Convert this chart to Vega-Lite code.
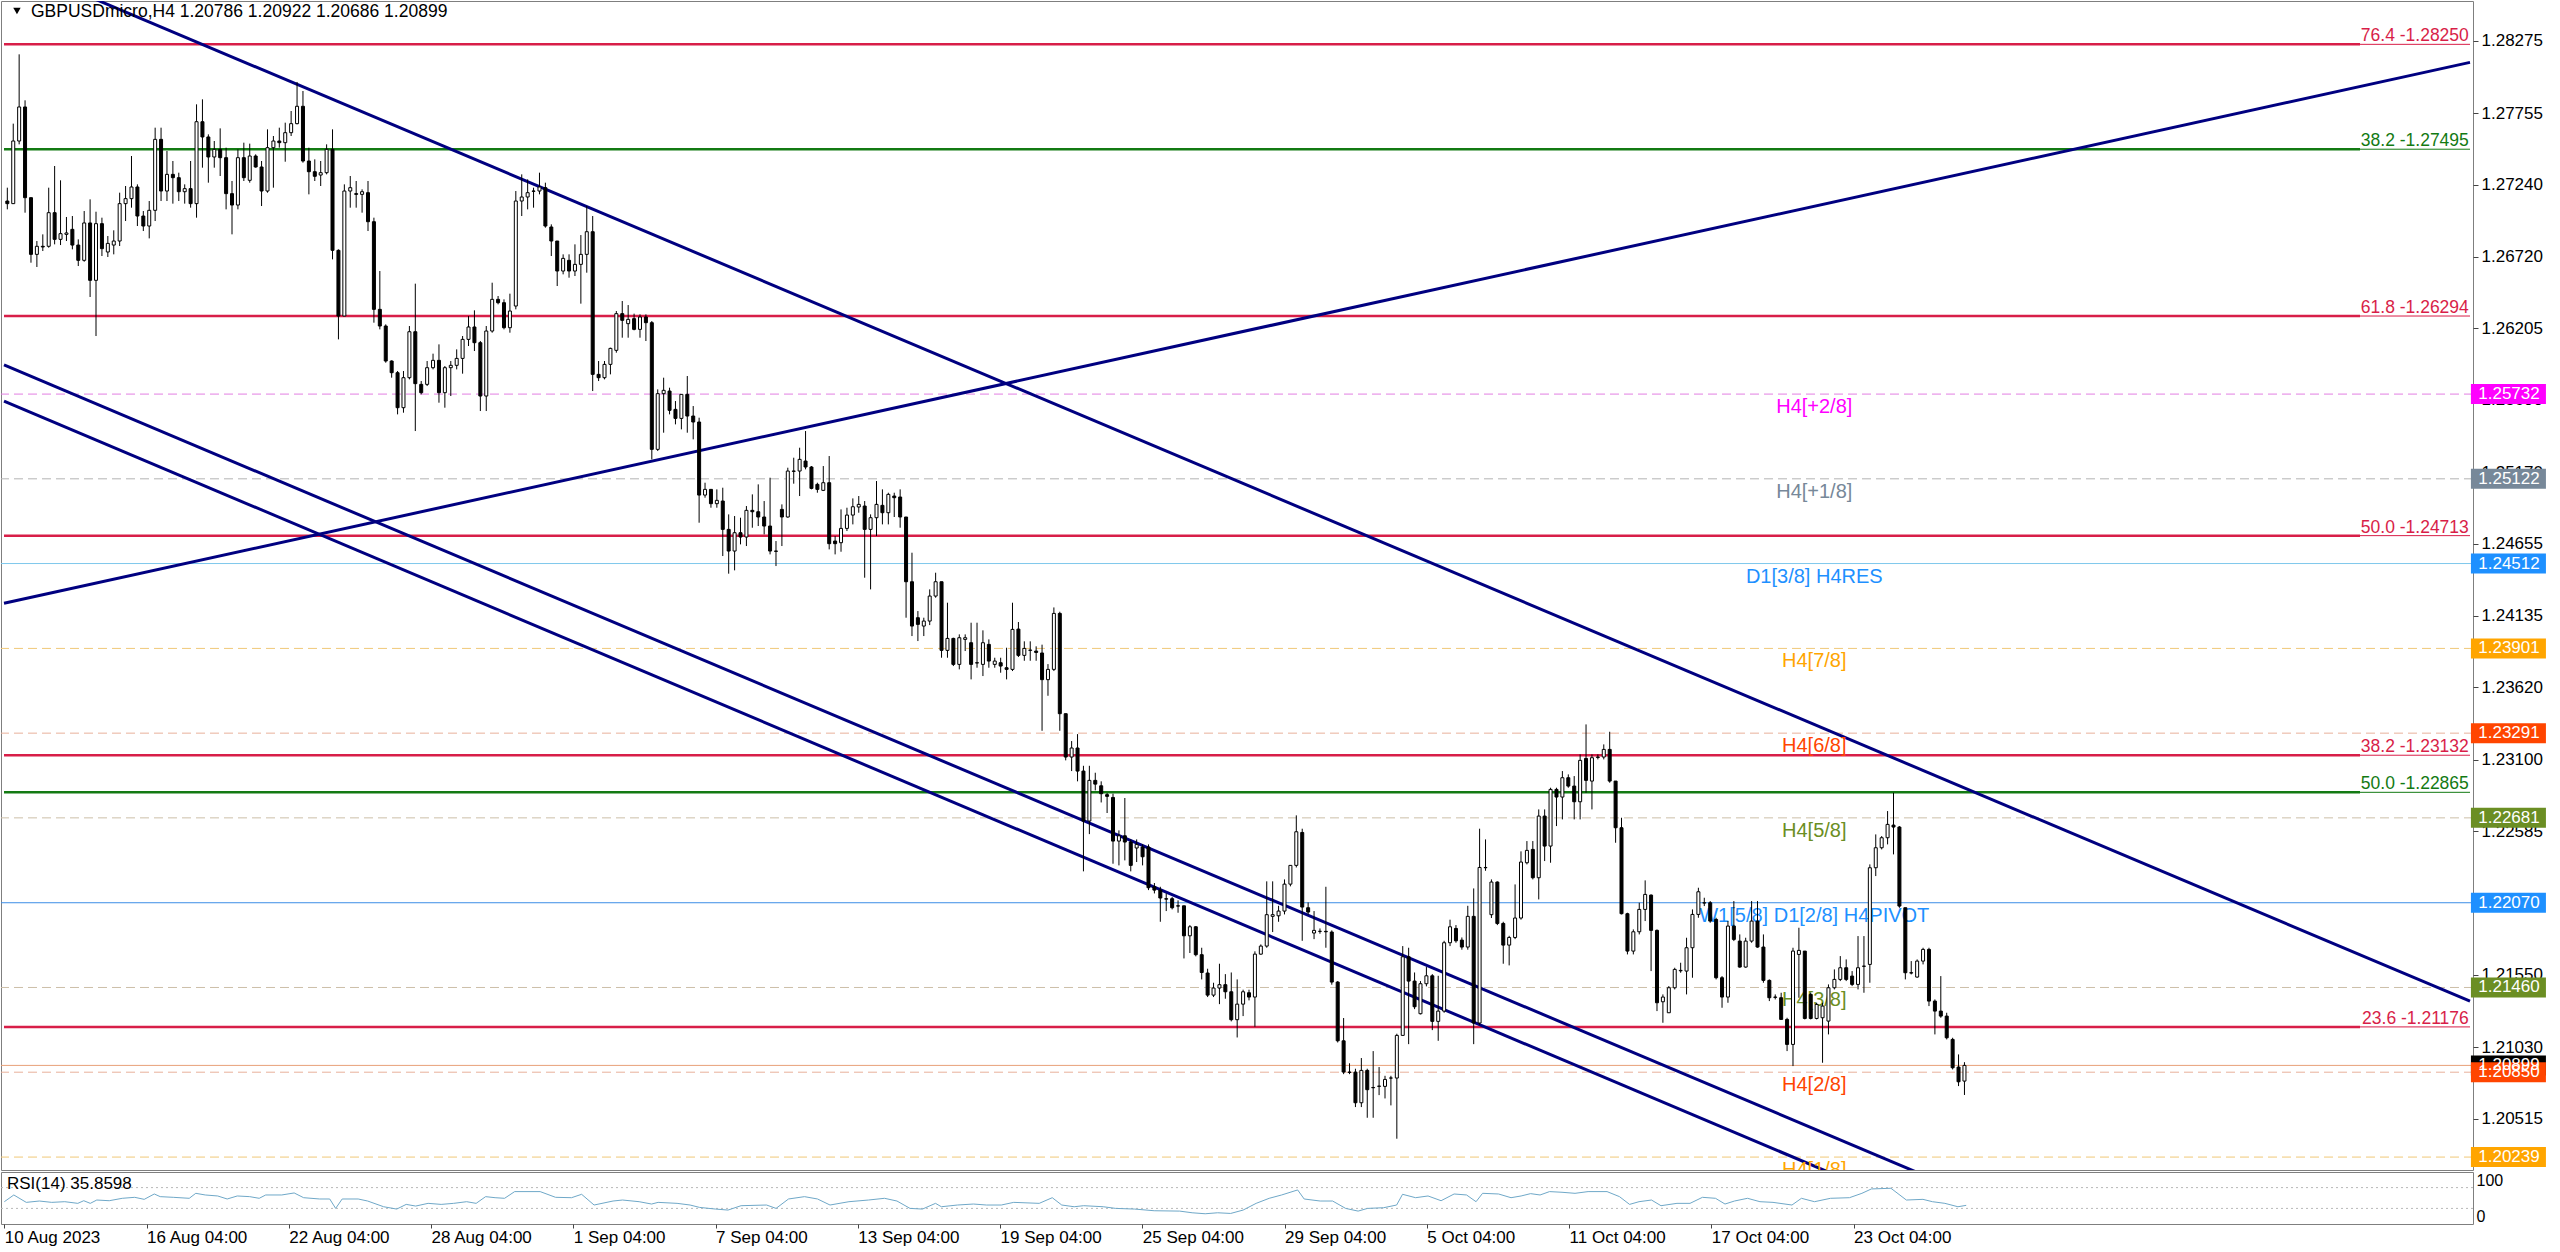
{
"$schema": "https://vega.github.io/schema/vega-lite/v6.json",
"padding": 0,
"background": "white",
"spacing": 2,
"bounds": "flush",
"config": {
"font": "Liberation Sans",
"view": {"stroke": "#7f7f7f", "strokeWidth": 1},
"bar": {"continuousBandSize": 3},
"axis": {"labelFont": "Liberation Sans", "labelFontSize": 17, "labelColor": "#000000", "tickColor": "#444444", "domain": false, "grid": false, "title": null, "labelOverlap": false, "labelFlush": false, "labelBound": false}
},
"datasets": {
"levels": [
{"name": "H4[+2/8]", "p": 1.25732, "kind": "H4"},
{"name": "H4[+1/8]", "p": 1.25122, "kind": "H4"},
{"name": "D1[3/8] H4RES", "p": 1.24512, "kind": "line"},
{"name": "H4[7/8]", "p": 1.23901, "kind": "H4"},
{"name": "H4[6/8]", "p": 1.23291, "kind": "H4"},
{"name": "H4[5/8]", "p": 1.22681, "kind": "H4"},
{"name": "W1[5/8] D1[2/8] H4PIVOT", "p": 1.2207, "kind": "line"},
{"name": "H4[3/8]", "p": 1.2146, "kind": "H4"},
{"name": "Bid", "p": 1.20899, "kind": "bid"},
{"name": "H4[2/8]", "p": 1.2085, "kind": "H4"},
{"name": "H4[1/8]", "p": 1.20239, "kind": "H4"}
],
"fib": [
{"set": "A", "lab": "76.4 -1.28250", "p": 1.2825},
{"set": "B", "lab": "38.2 -1.27495", "p": 1.27495},
{"set": "A", "lab": "61.8 -1.26294", "p": 1.26294},
{"set": "A", "lab": "50.0 -1.24713", "p": 1.24713},
{"set": "A", "lab": "38.2 -1.23132", "p": 1.23132},
{"set": "B", "lab": "50.0 -1.22865", "p": 1.22865},
{"set": "A", "lab": "23.6 -1.21176", "p": 1.21176}
],
"trend": [
{"line": "A", "i": -0.562, "p": 1.28852}, {"line": "A", "i": 416.5, "p": 1.21361},
{"line": "B", "i": -0.562, "p": 1.24226}, {"line": "B", "i": 416.5, "p": 1.2812},
{"line": "C", "i": -0.562, "p": 1.25942}, {"line": "C", "i": 416.5, "p": 1.18449},
{"line": "D", "i": -0.562, "p": 1.25682}, {"line": "D", "i": 416.5, "p": 1.18179}
],
"rsi": [
{"i":0,"r":42.9},{"i":1.6,"r":55.8},{"i":3.7,"r":41.6},{"i":5.9,"r":44.2},{"i":8.0,"r":41.6},{"i":10.2,"r":42.9},{"i":12.4,"r":39.7},{"i":13.4,"r":44.8},{"i":14.5,"r":39.7},{"i":15.6,"r":46.1},{"i":17.7,"r":44.8},{"i":19.9,"r":49.4},{"i":22.0,"r":51.3},{"i":23.6,"r":47.4},{"i":25.3,"r":57.7},{"i":26.3,"r":52.6},{"i":28.5,"r":51.3},{"i":31.2,"r":49.4},{"i":32.3,"r":59.0},{"i":33.9,"r":55.8},{"i":36.0,"r":53.9},{"i":37.6,"r":48.1},{"i":39.3,"r":53.9},{"i":41.4,"r":52.6},{"i":43.0,"r":49.4},{"i":44.1,"r":55.8},{"i":46.8,"r":55.8},{"i":48.9,"r":59.7},{"i":50.5,"r":50.6},{"i":53.2,"r":48.1},{"i":54.9,"r":48.1},{"i":55.9,"r":30.0},{"i":57.0,"r":48.1},{"i":59.7,"r":48.1},{"i":61.3,"r":44.2},{"i":64.0,"r":33.2},{"i":66.2,"r":28.7},{"i":67.8,"r":37.7},{"i":69.4,"r":34.5},{"i":71.5,"r":39.7},{"i":73.7,"r":37.7},{"i":75.8,"r":39.7},{"i":78.0,"r":42.9},{"i":79.6,"r":39.7},{"i":81.2,"r":52.6},{"i":82.8,"r":50.6},{"i":84.4,"r":49.4},{"i":86.1,"r":62.3},{"i":90.4,"r":62.3},{"i":93.0,"r":51.3},{"i":95.7,"r":50.6},{"i":97.4,"r":57.1},{"i":99.5,"r":36.5},{"i":102.7,"r":44.2},{"i":104.3,"r":46.1},{"i":107.1,"r":42.9},{"i":109.2,"r":38.4},{"i":110.3,"r":41.6},{"i":113.5,"r":39.7},{"i":115.7,"r":36.5},{"i":117.3,"r":31.9},{"i":120.0,"r":28.7},{"i":122.1,"r":26.8},{"i":124.3,"r":35.2},{"i":128.6,"r":36.5},{"i":130.2,"r":30.0},{"i":132.3,"r":48.1},{"i":135.0,"r":52.6},{"i":137.2,"r":48.1},{"i":139.3,"r":36.5},{"i":142.5,"r":42.9},{"i":145.8,"r":46.1},{"i":148.5,"r":49.4},{"i":150.6,"r":44.2},{"i":152.8,"r":30.0},{"i":154.9,"r":28.7},{"i":157.1,"r":39.7},{"i":158.1,"r":33.2},{"i":160.8,"r":36.5},{"i":163.5,"r":38.4},{"i":165.7,"r":36.5},
{"i":168.2,"r":36.5},{"i":170.3,"r":41.6},{"i":174.6,"r":39.7},{"i":176.8,"r":50.6},{"i":178.4,"r":36.5},{"i":180.5,"r":33.2},{"i":182.1,"r":35.2},{"i":185.4,"r":33.2},{"i":187.5,"r":30.0},{"i":190.7,"r":28.7},{"i":194.0,"r":25.5},{"i":198.3,"r":24.8},{"i":200.4,"r":21.6},{"i":202.6,"r":19.7},{"i":204.7,"r":21.6},{"i":206.9,"r":20.3},{"i":209.0,"r":26.8},{"i":211.2,"r":39.7},{"i":213.4,"r":49.4},{"i":215.5,"r":55.8},{"i":218.2,"r":65.5},{"i":219.3,"r":48.1},{"i":222.0,"r":44.2},{"i":224.1,"r":44.2},{"i":226.3,"r":30.0},{"i":228.4,"r":24.8},{"i":230.0,"r":30.0},{"i":232.7,"r":31.3},{"i":234.9,"r":36.5},{"i":235.9,"r":57.1},{"i":238.1,"r":50.6},{"i":240.2,"r":53.9},{"i":242.4,"r":44.8},{"i":244.6,"r":57.7},{"i":246.7,"r":55.8},{"i":248.3,"r":42.9},{"i":249.4,"r":59.0},{"i":252.1,"r":57.7},{"i":254.2,"r":50.6},{"i":255.9,"r":53.9},{"i":257.5,"r":58.4},{"i":259.1,"r":55.8},{"i":260.7,"r":62.3},{"i":262.8,"r":61.0},{"i":265.0,"r":59.0},{"i":267.2,"r":62.3},{"i":270.4,"r":62.3},{"i":272.5,"r":52.6},{"i":274.2,"r":37.7},{"i":275.8,"r":42.9},{"i":277.9,"r":46.1},{"i":279.5,"r":35.2},{"i":282.2,"r":39.7},{"i":284.4,"r":39.7},{"i":286.5,"r":51.3},{"i":288.7,"r":49.4},{"i":290.3,"r":38.4},{"i":291.9,"r":44.2},{"i":294.1,"r":49.4},{"i":296.2,"r":42.9},{"i":298.4,"r":41.6},{"i":301.6,"r":36.5},{"i":303.2,"r":49.4},{"i":305.4,"r":42.9},{"i":308.1,"r":49.4},{"i":311.3,"r":50.6},{"i":313.4,"r":59.0},{"i":315.0,"r":67.4},{"i":318.3,"r":68.7},{"i":320.9,"r":46.1},{"i":323.7,"r":47.4},{"i":325.3,"r":42.9},{"i":327.4,"r":39.7},{"i":329.6,"r":33.2},{"i":331,"r":35.86}
],
"candles": [
{"i":0,"o":1.27122,"h":1.27218,"l":1.27062,"c":1.27103},
{"i":1,"o":1.27103,"h":1.27679,"l":1.27103,"c":1.27554},
{"i":2,"o":1.27554,"h":1.28178,"l":1.2753,"c":1.27799},
{"i":3,"o":1.27799,"h":1.27847,"l":1.27038,"c":1.27146},
{"i":4,"o":1.27146,"h":1.27146,"l":1.26678,"c":1.26738},
{"i":5,"o":1.26738,"h":1.26834,"l":1.26647,"c":1.26796},
{"i":6,"o":1.26796,"h":1.26882,"l":1.26762,"c":1.26791},
{"i":7,"o":1.26796,"h":1.27218,"l":1.26786,"c":1.27038},
{"i":8,"o":1.27038,"h":1.27374,"l":1.2681,"c":1.26846},
{"i":9,"o":1.26846,"h":1.27271,"l":1.26805,"c":1.26887},
{"i":10,"o":1.26882,"h":1.27007,"l":1.26834,"c":1.26892},
{"i":11,"o":1.26918,"h":1.27014,"l":1.26774,"c":1.26805},
{"i":12,"o":1.26805,"h":1.26846,"l":1.26654,"c":1.26695},
{"i":13,"o":1.26695,"h":1.2705,"l":1.26685,"c":1.26964},
{"i":14,"o":1.26964,"h":1.27134,"l":1.26431,"c":1.26551},
{"i":15,"o":1.26551,"h":1.27045,"l":1.2615,"c":1.26959},
{"i":16,"o":1.26959,"h":1.27002,"l":1.26726,"c":1.26779},
{"i":17,"o":1.26755,"h":1.2687,"l":1.26719,"c":1.26817},
{"i":18,"o":1.26805,"h":1.26911,"l":1.26738,"c":1.26834},
{"i":19,"o":1.26834,"h":1.27182,"l":1.26798,"c":1.27103},
{"i":20,"o":1.27103,"h":1.2723,"l":1.26978,"c":1.27139},
{"i":21,"o":1.27139,"h":1.27446,"l":1.27074,"c":1.27223},
{"i":22,"o":1.27223,"h":1.27242,"l":1.26942,"c":1.27014},
{"i":23,"o":1.27014,"h":1.2705,"l":1.26906,"c":1.26942},
{"i":24,"o":1.26942,"h":1.27122,"l":1.26853,"c":1.27055},
{"i":25,"o":1.27055,"h":1.2765,"l":1.26978,"c":1.27566},
{"i":26,"o":1.27566,"h":1.2765,"l":1.27122,"c":1.27194},
{"i":27,"o":1.27194,"h":1.27482,"l":1.27122,"c":1.27314},
{"i":28,"o":1.27314,"h":1.2741,"l":1.27103,"c":1.2729},
{"i":29,"o":1.2729,"h":1.27326,"l":1.27122,"c":1.27189},
{"i":30,"o":1.27189,"h":1.27242,"l":1.27103,"c":1.27211},
{"i":31,"o":1.27211,"h":1.2741,"l":1.27074,"c":1.27103},
{"i":32,"o":1.27103,"h":1.27818,"l":1.27002,"c":1.27693},
{"i":33,"o":1.27693,"h":1.27854,"l":1.27362,"c":1.27583},
{"i":34,"o":1.27583,"h":1.27602,"l":1.27254,"c":1.27439},
{"i":35,"o":1.27439,"h":1.27554,"l":1.27362,"c":1.27494},
{"i":36,"o":1.27494,"h":1.27645,"l":1.27302,"c":1.27434},
{"i":37,"o":1.27434,"h":1.27506,"l":1.27062,"c":1.27175},
{"i":38,"o":1.27175,"h":1.27266,"l":1.26882,"c":1.27093},
{"i":39,"o":1.27093,"h":1.27494,"l":1.27062,"c":1.27434},
{"i":40,"o":1.27434,"h":1.27542,"l":1.27266,"c":1.2729},
{"i":41,"o":1.27271,"h":1.27535,"l":1.27254,"c":1.27446},
{"i":42,"o":1.27446,"h":1.27458,"l":1.27362,"c":1.27367},
{"i":43,"o":1.27367,"h":1.2741,"l":1.27086,"c":1.27194},
{"i":44,"o":1.27194,"h":1.27638,"l":1.27182,"c":1.27506},
{"i":45,"o":1.27506,"h":1.2759,"l":1.27218,"c":1.27554},
{"i":46,"o":1.27554,"h":1.2765,"l":1.27506,"c":1.27542},
{"i":47,"o":1.27542,"h":1.27686,"l":1.27405,"c":1.27614},
{"i":48,"o":1.27614,"h":1.2777,"l":1.2759,"c":1.27679},
{"i":49,"o":1.27679,"h":1.27979,"l":1.27674,"c":1.27804},
{"i":50,"o":1.27804,"h":1.27914,"l":1.27398,"c":1.2741},
{"i":51,"o":1.2741,"h":1.27506,"l":1.2717,"c":1.27333},
{"i":52,"o":1.27333,"h":1.27422,"l":1.27266,"c":1.273},
{"i":53,"o":1.27309,"h":1.2741,"l":1.2723,"c":1.27326},
{"i":54,"o":1.27326,"h":1.2753,"l":1.27314,"c":1.27494},
{"i":55,"o":1.27494,"h":1.27638,"l":1.26702,"c":1.26767},
{"i":56,"o":1.26767,"h":1.26774,"l":1.26126,"c":1.26294},
{"i":57,"o":1.26294,"h":1.27242,"l":1.26294,"c":1.27194},
{"i":58,"o":1.27194,"h":1.27302,"l":1.27074,"c":1.27218},
{"i":59,"o":1.27175,"h":1.27266,"l":1.27074,"c":1.2717},
{"i":60,"o":1.2717,"h":1.27206,"l":1.27038,"c":1.27189},
{"i":61,"o":1.27182,"h":1.27266,"l":1.26906,"c":1.26973},
{"i":62,"o":1.26973,"h":1.27002,"l":1.26246,"c":1.26342},
{"i":63,"o":1.26342,"h":1.26618,"l":1.26198,"c":1.26222},
{"i":64,"o":1.26222,"h":1.26234,"l":1.25958,"c":1.2597},
{"i":65,"o":1.2597,"h":1.25975,"l":1.2585,"c":1.25886},
{"i":66,"o":1.25886,"h":1.25898,"l":1.25586,"c":1.25634},
{"i":67,"o":1.25634,"h":1.25898,"l":1.25598,"c":1.2585},
{"i":68,"o":1.2585,"h":1.26222,"l":1.25838,"c":1.26181},
{"i":69,"o":1.26181,"h":1.26527,"l":1.25466,"c":1.25807},
{"i":70,"o":1.25802,"h":1.25826,"l":1.2573,"c":1.25742},
{"i":71,"o":1.25802,"h":1.2597,"l":1.2579,"c":1.25922},
{"i":72,"o":1.25922,"h":1.26023,"l":1.2591,"c":1.25975},
{"i":73,"o":1.25975,"h":1.2609,"l":1.2567,"c":1.25742},
{"i":74,"o":1.25742,"h":1.25934,"l":1.25634,"c":1.25922},
{"i":75,"o":1.25922,"h":1.2597,"l":1.25718,"c":1.25939},
{"i":76,"o":1.25939,"h":1.26054,"l":1.2591,"c":1.25989},
{"i":77,"o":1.25989,"h":1.2615,"l":1.25879,"c":1.26126},
{"i":78,"o":1.26126,"h":1.26294,"l":1.26078,"c":1.26215},
{"i":79,"o":1.26215,"h":1.26335,"l":1.26042,"c":1.26102},
{"i":80,"o":1.26102,"h":1.26114,"l":1.2561,"c":1.25718},
{"i":81,"o":1.25718,"h":1.26222,"l":1.2561,"c":1.26186},
{"i":82,"o":1.26186,"h":1.26534,"l":1.26174,"c":1.26414},
{"i":83,"o":1.26414,"h":1.26438,"l":1.26378,"c":1.2639},
{"i":84,"o":1.2639,"h":1.26414,"l":1.26198,"c":1.2621},
{"i":85,"o":1.2621,"h":1.26455,"l":1.26174,"c":1.2633},
{"i":86,"o":1.26366,"h":1.27194,"l":1.26342,"c":1.27122},
{"i":87,"o":1.27122,"h":1.27314,"l":1.27014,"c":1.27151},
{"i":88,"o":1.27151,"h":1.27278,"l":1.27062,"c":1.27182},
{"i":89,"o":1.27194,"h":1.27218,"l":1.27074,"c":1.27192},
{"i":90,"o":1.27194,"h":1.27326,"l":1.2717,"c":1.27223},
{"i":91,"o":1.27218,"h":1.27254,"l":1.2693,"c":1.26942},
{"i":92,"o":1.26935,"h":1.26954,"l":1.26726,"c":1.26834},
{"i":93,"o":1.26834,"h":1.26834,"l":1.2651,"c":1.26618},
{"i":94,"o":1.26618,"h":1.26738,"l":1.26594,"c":1.26709},
{"i":95,"o":1.26695,"h":1.26738,"l":1.2657,"c":1.26618},
{"i":96,"o":1.26618,"h":1.2681,"l":1.26582,"c":1.26666},
{"i":97,"o":1.26666,"h":1.26877,"l":1.26383,"c":1.26738},
{"i":98,"o":1.26738,"h":1.27086,"l":1.26606,"c":1.26901},
{"i":99,"o":1.26901,"h":1.27014,"l":1.25754,"c":1.25874},
{"i":100,"o":1.25874,"h":1.2597,"l":1.25826,"c":1.2585},
{"i":101,"o":1.2585,"h":1.2597,"l":1.25838,"c":1.25946},
{"i":102,"o":1.25946,"h":1.26066,"l":1.25874,"c":1.26061},
{"i":103,"o":1.26047,"h":1.2633,"l":1.2603,"c":1.26311},
{"i":104,"o":1.26311,"h":1.26402,"l":1.26138,"c":1.26263},
{"i":105,"o":1.26239,"h":1.26373,"l":1.26138,"c":1.2627},
{"i":106,"o":1.26275,"h":1.26311,"l":1.26191,"c":1.26198},
{"i":107,"o":1.26198,"h":1.26306,"l":1.26138,"c":1.26287},
{"i":108,"o":1.26287,"h":1.26306,"l":1.26114,"c":1.26246},
{"i":109,"o":1.26246,"h":1.26258,"l":1.25262,"c":1.25334},
{"i":110,"o":1.25334,"h":1.25766,"l":1.25322,"c":1.25735},
{"i":111,"o":1.25735,"h":1.2585,"l":1.25454,"c":1.25759},
{"i":112,"o":1.25754,"h":1.25778,"l":1.25586,"c":1.25615},
{"i":113,"o":1.25622,"h":1.25682,"l":1.25514,"c":1.25557},
{"i":114,"o":1.25557,"h":1.2573,"l":1.25478,"c":1.2573},
{"i":115,"o":1.2573,"h":1.25862,"l":1.25454,"c":1.25574},
{"i":116,"o":1.25574,"h":1.25646,"l":1.25406,"c":1.25531},
{"i":117,"o":1.25531,"h":1.25562,"l":1.24806,"c":1.25005},
{"i":118,"o":1.25005,"h":1.25094,"l":1.24986,"c":1.25046},
{"i":119,"o":1.25046,"h":1.25046,"l":1.24914,"c":1.24943},
{"i":120,"o":1.24943,"h":1.25046,"l":1.24914,"c":1.24967},
{"i":121,"o":1.24962,"h":1.25058,"l":1.24566,"c":1.24758},
{"i":122,"o":1.24758,"h":1.24866,"l":1.24439,"c":1.24602},
{"i":123,"o":1.24602,"h":1.24854,"l":1.24463,"c":1.24734},
{"i":124,"o":1.24734,"h":1.24842,"l":1.2465,"c":1.24703},
{"i":125,"o":1.24703,"h":1.24926,"l":1.24638,"c":1.24895},
{"i":126,"o":1.24895,"h":1.2501,"l":1.2477,"c":1.24885},
{"i":127,"o":1.24885,"h":1.25082,"l":1.24782,"c":1.24847},
{"i":128,"o":1.24847,"h":1.24962,"l":1.24722,"c":1.24782},
{"i":129,"o":1.24782,"h":1.2513,"l":1.24578,"c":1.24602},
{"i":130,"o":1.24602,"h":1.24674,"l":1.24494,"c":1.246},
{"i":131,"o":1.24902,"h":1.24938,"l":1.24638,"c":1.24847},
{"i":132,"o":1.24847,"h":1.25202,"l":1.24842,"c":1.25178},
{"i":133,"o":1.25178,"h":1.25274,"l":1.25087,"c":1.25176},
{"i":134,"o":1.25178,"h":1.25346,"l":1.24998,"c":1.25262},
{"i":135,"o":1.2525,"h":1.25466,"l":1.2519,"c":1.25207},
{"i":136,"o":1.25207,"h":1.25214,"l":1.25046,"c":1.25053},
{"i":137,"o":1.25082,"h":1.25094,"l":1.25022,"c":1.25046},
{"i":138,"o":1.25039,"h":1.25214,"l":1.25034,"c":1.25094},
{"i":139,"o":1.25094,"h":1.25286,"l":1.24614,"c":1.24655},
{"i":140,"o":1.24674,"h":1.2471,"l":1.24578,"c":1.24655},
{"i":141,"o":1.24662,"h":1.24902,"l":1.24597,"c":1.24765},
{"i":142,"o":1.24765,"h":1.24914,"l":1.24746,"c":1.24861},
{"i":143,"o":1.24861,"h":1.24981,"l":1.24794,"c":1.24921},
{"i":144,"o":1.24919,"h":1.24998,"l":1.24878,"c":1.24938},
{"i":145,"o":1.24926,"h":1.24962,"l":1.2441,"c":1.24758},
{"i":146,"o":1.24758,"h":1.24866,"l":1.24326,"c":1.24842},
{"i":147,"o":1.24842,"h":1.25106,"l":1.2471,"c":1.24938},
{"i":148,"o":1.24931,"h":1.25046,"l":1.24794,"c":1.24878},
{"i":149,"o":1.24878,"h":1.25022,"l":1.24794,"c":1.2501},
{"i":150,"o":1.24998,"h":1.25022,"l":1.24847,"c":1.24986},
{"i":151,"o":1.24991,"h":1.25046,"l":1.2477,"c":1.24847},
{"i":152,"o":1.24847,"h":1.24847,"l":1.24122,"c":1.24381},
{"i":153,"o":1.24381,"h":1.2459,"l":1.2399,"c":1.24062},
{"i":154,"o":1.24122,"h":1.2417,"l":1.23954,"c":1.24074},
{"i":155,"o":1.24062,"h":1.24122,"l":1.2399,"c":1.24098},
{"i":156,"o":1.24098,"h":1.24326,"l":1.24069,"c":1.24278},
{"i":157,"o":1.24278,"h":1.24446,"l":1.24266,"c":1.24381},
{"i":158,"o":1.24381,"h":1.24381,"l":1.23834,"c":1.23887},
{"i":159,"o":1.23887,"h":1.2423,"l":1.23834,"c":1.23973},
{"i":160,"o":1.23973,"h":1.23978,"l":1.23774,"c":1.23786},
{"i":161,"o":1.23786,"h":1.24002,"l":1.2375,"c":1.23978},
{"i":162,"o":1.23966,"h":1.24002,"l":1.23882,"c":1.23978},
{"i":163,"o":1.23942,"h":1.24086,"l":1.23678,"c":1.23786},
{"i":164,"o":1.23796,"h":1.24086,"l":1.23762,"c":1.23798},
{"i":165,"o":1.23786,"h":1.24031,"l":1.23702,"c":1.23942},
{"i":166,"o":1.2393,"h":1.23966,"l":1.23762,"c":1.2381},
{"i":167,"o":1.23786,"h":1.23834,"l":1.23762,"c":1.2381},
{"i":168,"o":1.23798,"h":1.23834,"l":1.23726,"c":1.23774},
{"i":169,"o":1.23762,"h":1.23906,"l":1.23678,"c":1.2375},
{"i":170,"o":1.2375,"h":1.2423,"l":1.23738,"c":1.24038},
{"i":171,"o":1.2404,"h":1.24091,"l":1.23839,"c":1.23851},
{"i":172,"o":1.23851,"h":1.23952,"l":1.23812,"c":1.23901},
{"i":173,"o":1.23887,"h":1.23952,"l":1.23812,"c":1.23889},
{"i":174,"o":1.23882,"h":1.23916,"l":1.23812,"c":1.23872},
{"i":175,"o":1.23868,"h":1.23928,"l":1.23308,"c":1.23676},
{"i":176,"o":1.23676,"h":1.23788,"l":1.2356,"c":1.2375},
{"i":177,"o":1.2375,"h":1.24196,"l":1.23738,"c":1.24153},
{"i":178,"o":1.24153,"h":1.24165,"l":1.23308,"c":1.23431},
{"i":179,"o":1.23431,"h":1.23431,"l":1.23095,"c":1.23119},
{"i":180,"o":1.23119,"h":1.23234,"l":1.23018,"c":1.23184},
{"i":181,"o":1.23184,"h":1.23284,"l":1.22944,"c":1.23018},
{"i":182,"o":1.23018,"h":1.23056,"l":1.22296,"c":1.22658},
{"i":183,"o":1.22658,"h":1.23056,"l":1.22564,"c":1.22951},
{"i":184,"o":1.22951,"h":1.23006,"l":1.22879,"c":1.22924},
{"i":185,"o":1.22912,"h":1.22944,"l":1.22792,"c":1.22855},
{"i":186,"o":1.22848,"h":1.2286,"l":1.22716,"c":1.22836},
{"i":187,"o":1.22828,"h":1.22855,"l":1.22351,"c":1.22514},
{"i":188,"o":1.22514,"h":1.22591,"l":1.22339,"c":1.22552},
{"i":189,"o":1.22552,"h":1.22824,"l":1.22375,"c":1.22507},
{"i":190,"o":1.22507,"h":1.22526,"l":1.22296,"c":1.22339},
{"i":191,"o":1.22464,"h":1.22526,"l":1.22363,"c":1.2249},
{"i":192,"o":1.22471,"h":1.2249,"l":1.22339,"c":1.22401},
{"i":193,"o":1.22471,"h":1.2249,"l":1.22161,"c":1.22178},
{"i":194,"o":1.22185,"h":1.22212,"l":1.22137,"c":1.22161},
{"i":195,"o":1.22161,"h":1.22185,"l":1.21933,"c":1.22104},
{"i":196,"o":1.22099,"h":1.22137,"l":1.2201,"c":1.22096},
{"i":197,"o":1.22099,"h":1.22111,"l":1.22022,"c":1.22034},
{"i":198,"o":1.22048,"h":1.22087,"l":1.21998,"c":1.22046},
{"i":199,"o":1.22048,"h":1.22048,"l":1.21669,"c":1.21832},
{"i":200,"o":1.21832,"h":1.21909,"l":1.21708,"c":1.21897},
{"i":201,"o":1.21897,"h":1.21902,"l":1.21684,"c":1.21696},
{"i":202,"o":1.21696,"h":1.21746,"l":1.21518,"c":1.21568},
{"i":203,"o":1.21564,"h":1.21595,"l":1.21391,"c":1.21405},
{"i":204,"o":1.21405,"h":1.21494,"l":1.21391,"c":1.21456},
{"i":205,"o":1.21456,"h":1.21631,"l":1.2134,"c":1.2148},
{"i":206,"o":1.2148,"h":1.21556,"l":1.21379,"c":1.21429},
{"i":207,"o":1.21429,"h":1.21568,"l":1.21216,"c":1.21228},
{"i":208,"o":1.21228,"h":1.21518,"l":1.211,"c":1.2134},
{"i":209,"o":1.2134,"h":1.21444,"l":1.21254,"c":1.21429},
{"i":210,"o":1.21422,"h":1.21444,"l":1.21367,"c":1.21391},
{"i":211,"o":1.21391,"h":1.2172,"l":1.21177,"c":1.217},
{"i":212,"o":1.217,"h":1.2177,"l":1.21696,"c":1.21758},
{"i":213,"o":1.21758,"h":1.22224,"l":1.21746,"c":1.21984},
{"i":214,"o":1.21972,"h":1.22224,"l":1.21859,"c":1.21984},
{"i":215,"o":1.21976,"h":1.22048,"l":1.21933,"c":1.2201},
{"i":216,"o":1.2201,"h":1.22238,"l":1.21986,"c":1.22204},
{"i":217,"o":1.22204,"h":1.22339,"l":1.22188,"c":1.22339},
{"i":218,"o":1.22339,"h":1.22699,"l":1.22324,"c":1.22581},
{"i":219,"o":1.22576,"h":1.22603,"l":1.21796,"c":1.22039},
{"i":220,"o":1.22034,"h":1.22072,"l":1.21984,"c":1.22003},
{"i":221,"o":1.21852,"h":1.2201,"l":1.21808,"c":1.21871},
{"i":222,"o":1.21864,"h":1.21885,"l":1.21847,"c":1.21864},
{"i":223,"o":1.21864,"h":1.22185,"l":1.21746,"c":1.21861},
{"i":224,"o":1.21859,"h":1.21871,"l":1.2148,"c":1.21499},
{"i":225,"o":1.21499,"h":1.21506,"l":1.21064,"c":1.21076},
{"i":226,"o":1.21076,"h":1.2124,"l":1.20836,"c":1.20851},
{"i":227,"o":1.20851,"h":1.20914,"l":1.20836,"c":1.20848},
{"i":228,"o":1.20851,"h":1.20875,"l":1.20599,"c":1.2063},
{"i":229,"o":1.2063,"h":1.20952,"l":1.20599,"c":1.20863},
{"i":230,"o":1.20863,"h":1.20875,"l":1.20522,"c":1.20724},
{"i":231,"o":1.2074,"h":1.21002,"l":1.20522,"c":1.20738},
{"i":232,"o":1.20748,"h":1.20887,"l":1.20685,"c":1.2075},
{"i":233,"o":1.20748,"h":1.20824,"l":1.20661,"c":1.20798},
{"i":234,"o":1.20808,"h":1.20824,"l":1.20611,"c":1.20808},
{"i":235,"o":1.20808,"h":1.21127,"l":1.20371,"c":1.21115},
{"i":236,"o":1.21115,"h":1.21758,"l":1.21115,"c":1.21681},
{"i":237,"o":1.21681,"h":1.21746,"l":1.21052,"c":1.21506},
{"i":238,"o":1.21506,"h":1.21568,"l":1.21304,"c":1.21321},
{"i":239,"o":1.21271,"h":1.21506,"l":1.21266,"c":1.21487},
{"i":240,"o":1.21487,"h":1.21607,"l":1.21468,"c":1.21544},
{"i":241,"o":1.21544,"h":1.21556,"l":1.21153,"c":1.21216},
{"i":242,"o":1.21216,"h":1.21544,"l":1.21076,"c":1.2129},
{"i":243,"o":1.2129,"h":1.21796,"l":1.21278,"c":1.21782},
{"i":244,"o":1.21782,"h":1.21948,"l":1.21758,"c":1.21897},
{"i":245,"o":1.21885,"h":1.21909,"l":1.21782,"c":1.21796},
{"i":246,"o":1.21801,"h":1.2182,"l":1.21732,"c":1.21751},
{"i":247,"o":1.21751,"h":1.22048,"l":1.21732,"c":1.21972},
{"i":248,"o":1.21972,"h":1.22173,"l":1.21052,"c":1.21204},
{"i":249,"o":1.21204,"h":1.22603,"l":1.21189,"c":1.22324},
{"i":250,"o":1.22322,"h":1.22526,"l":1.223,"c":1.22324},
{"i":251,"o":1.21984,"h":1.22238,"l":1.2196,"c":1.22219},
{"i":252,"o":1.22219,"h":1.22224,"l":1.21909,"c":1.21921},
{"i":253,"o":1.21921,"h":1.21933,"l":1.21631,"c":1.21765},
{"i":254,"o":1.21765,"h":1.21832,"l":1.21619,"c":1.2182},
{"i":255,"o":1.2182,"h":1.22202,"l":1.21808,"c":1.2196},
{"i":256,"o":1.2196,"h":1.2244,"l":1.21948,"c":1.22363},
{"i":257,"o":1.22358,"h":1.22514,"l":1.22346,"c":1.22447},
{"i":258,"o":1.22454,"h":1.22514,"l":1.22238,"c":1.2225},
{"i":259,"o":1.2225,"h":1.22742,"l":1.22094,"c":1.22694},
{"i":260,"o":1.22694,"h":1.22742,"l":1.2237,"c":1.22478},
{"i":261,"o":1.22478,"h":1.22898,"l":1.22358,"c":1.22886},
{"i":262,"o":1.22886,"h":1.22898,"l":1.22622,"c":1.22831},
{"i":263,"o":1.22831,"h":1.23018,"l":1.2267,"c":1.2297},
{"i":264,"o":1.2297,"h":1.22994,"l":1.22898,"c":1.2291},
{"i":265,"o":1.2291,"h":1.22982,"l":1.2267,"c":1.22797},
{"i":266,"o":1.22797,"h":1.23138,"l":1.2267,"c":1.23095},
{"i":267,"o":1.23109,"h":1.23354,"l":1.22862,"c":1.22951},
{"i":268,"o":1.22946,"h":1.23138,"l":1.22742,"c":1.23114},
{"i":269,"o":1.23116,"h":1.23138,"l":1.23102,"c":1.23119},
{"i":270,"o":1.23119,"h":1.2321,"l":1.23102,"c":1.23174},
{"i":271,"o":1.23174,"h":1.23301,"l":1.22934,"c":1.22946},
{"i":272,"o":1.22946,"h":1.22946,"l":1.22502,"c":1.2261},
{"i":273,"o":1.2261,"h":1.22682,"l":1.21986,"c":1.21991},
{"i":274,"o":1.21991,"h":1.21998,"l":1.21698,"c":1.21722},
{"i":275,"o":1.21722,"h":1.21878,"l":1.21698,"c":1.21861},
{"i":276,"o":1.21861,"h":1.2207,"l":1.21842,"c":1.22022},
{"i":277,"o":1.22022,"h":1.22231,"l":1.21938,"c":1.2213},
{"i":278,"o":1.22125,"h":1.2213,"l":1.21578,"c":1.21871},
{"i":279,"o":1.21871,"h":1.21878,"l":1.2129,"c":1.2135},
{"i":280,"o":1.21357,"h":1.2141,"l":1.21206,"c":1.21391},
{"i":281,"o":1.21278,"h":1.2147,"l":1.21278,"c":1.21458},
{"i":282,"o":1.21458,"h":1.21602,"l":1.21446,"c":1.2159},
{"i":283,"o":1.2158,"h":1.21638,"l":1.21566,"c":1.21583},
{"i":284,"o":1.21578,"h":1.21818,"l":1.2141,"c":1.21746},
{"i":285,"o":1.21746,"h":1.22022,"l":1.2153,"c":1.21986},
{"i":286,"o":1.21986,"h":1.22178,"l":1.21962,"c":1.22149},
{"i":287,"o":1.22068,"h":1.22106,"l":1.22046,"c":1.2207},
{"i":288,"o":1.2207,"h":1.22082,"l":1.21926,"c":1.21938},
{"i":289,"o":1.2195,"h":1.21962,"l":1.21518,"c":1.2153},
{"i":290,"o":1.2153,"h":1.21542,"l":1.21314,"c":1.21391},
{"i":291,"o":1.21391,"h":1.21938,"l":1.2135,"c":1.21902},
{"i":292,"o":1.21902,"h":1.22082,"l":1.21794,"c":1.21806},
{"i":293,"o":1.21794,"h":1.21842,"l":1.21602,"c":1.21607},
{"i":294,"o":1.21607,"h":1.21818,"l":1.21602,"c":1.21794},
{"i":295,"o":1.21794,"h":1.22082,"l":1.21782,"c":1.21938},
{"i":296,"o":1.21938,"h":1.22082,"l":1.21746,"c":1.21751},
{"i":297,"o":1.21751,"h":1.21842,"l":1.21494,"c":1.21511},
{"i":298,"o":1.21511,"h":1.21518,"l":1.21362,"c":1.21386},
{"i":299,"o":1.21391,"h":1.2141,"l":1.21374,"c":1.21389},
{"i":300,"o":1.21386,"h":1.21422,"l":1.2123,"c":1.2123},
{"i":301,"o":1.2123,"h":1.21242,"l":1.21002,"c":1.2105},
{"i":302,"o":1.2105,"h":1.21746,"l":1.20894,"c":1.21722},
{"i":303,"o":1.21698,"h":1.2189,"l":1.21386,"c":1.21727},
{"i":304,"o":1.21722,"h":1.21722,"l":1.2123,"c":1.21237},
{"i":305,"o":1.2141,"h":1.21422,"l":1.2123,"c":1.21237},
{"i":306,"o":1.21237,"h":1.2135,"l":1.2123,"c":1.21338},
{"i":307,"o":1.21242,"h":1.2135,"l":1.20918,"c":1.21326},
{"i":308,"o":1.21218,"h":1.21482,"l":1.21122,"c":1.21458},
{"i":309,"o":1.21458,"h":1.2159,"l":1.21446,"c":1.21518},
{"i":310,"o":1.21518,"h":1.21686,"l":1.21506,"c":1.21602},
{"i":311,"o":1.21602,"h":1.21662,"l":1.21506,"c":1.21518},
{"i":312,"o":1.21542,"h":1.21578,"l":1.2147,"c":1.21482},
{"i":313,"o":1.21482,"h":1.2183,"l":1.21446,"c":1.21602},
{"i":314,"o":1.21612,"h":1.2183,"l":1.21422,"c":1.21614},
{"i":315,"o":1.21626,"h":1.22346,"l":1.21494,"c":1.22322},
{"i":316,"o":1.22322,"h":1.22562,"l":1.22262,"c":1.22466},
{"i":317,"o":1.22466,"h":1.2255,"l":1.22454,"c":1.22538},
{"i":318,"o":1.22538,"h":1.2273,"l":1.2249,"c":1.22634},
{"i":319,"o":1.22629,"h":1.22862,"l":1.22418,"c":1.22615},
{"i":320,"o":1.22615,"h":1.22622,"l":1.22034,"c":1.22046},
{"i":321,"o":1.22034,"h":1.22034,"l":1.21518,"c":1.21566},
{"i":322,"o":1.21566,"h":1.2165,"l":1.21554,"c":1.21564},
{"i":323,"o":1.21535,"h":1.21662,"l":1.2153,"c":1.2165},
{"i":324,"o":1.2165,"h":1.21746,"l":1.21626,"c":1.21734},
{"i":325,"o":1.21734,"h":1.21746,"l":1.21326,"c":1.21362},
{"i":326,"o":1.21362,"h":1.21374,"l":1.21122,"c":1.2129},
{"i":327,"o":1.2129,"h":1.21542,"l":1.21242,"c":1.21254},
{"i":328,"o":1.21254,"h":1.21278,"l":1.21086,"c":1.21098},
{"i":329,"o":1.21086,"h":1.21098,"l":1.2087,"c":1.20882},
{"i":330,"o":1.20887,"h":1.20978,"l":1.2075,"c":1.20781},
{"i":331,"o":1.20786,"h":1.20922,"l":1.20686,"c":1.20899}
]
},
"vconcat": [
{
"width": 2472,
"height": 1169,
"resolve": {"scale": {"color": "independent"}},
"layer": [
{
"data": {"name": "levels"},
"transform": [{"filter": "datum.kind == 'H4'"}],
"mark": {"type": "rule", "strokeWidth": 1, "strokeDash": [9, 5]},
"encoding": {
"y": {"field": "p", "type": "quantitative", "scale": {"domain": [1.201459, 1.28562], "nice": false, "zero": false},
"axis": {"orient": "right", "values": [1.20515, 1.2103, 1.2155, 1.22065, 1.22585, 1.231, 1.2362, 1.24135, 1.24655, 1.2517, 1.2569, 1.26205, 1.2672, 1.2724, 1.27755, 1.28275], "format": ".5f", "tickSize": 5, "labelPadding": 3, "labelFontSize": 17}},
"color": {"field": "name", "type": "nominal", "legend": null,
"scale": {"domain": ["H4[+2/8]", "H4[+1/8]", "H4[7/8]", "H4[6/8]", "H4[5/8]", "H4[3/8]", "H4[2/8]", "H4[1/8]"],
"range": ["#e27fe2", "#b4b4b4", "#f0c878", "#e8b09a", "#ccbfa8", "#ccbfa8", "#e8b09a", "#f0c878"]}}
}
},
{
"data": {"name": "levels"},
"transform": [{"filter": "datum.kind == 'line'"}],
"mark": {"type": "rule", "strokeWidth": 1},
"encoding": {
"y": {"field": "p", "type": "quantitative", "scale": {"domain": [1.201459, 1.28562], "nice": false, "zero": false}},
"color": {"field": "name", "type": "nominal", "legend": null,
"scale": {"domain": ["D1[3/8] H4RES", "W1[5/8] D1[2/8] H4PIVOT"], "range": ["#7ec8ec", "#3d8ee6"]}}
}
},
{
"data": {"name": "levels"},
"transform": [{"filter": "datum.kind == 'bid'"}],
"mark": {"type": "rule", "strokeWidth": 1, "color": "#e8a078"},
"encoding": {
"y": {"field": "p", "type": "quantitative", "scale": {"domain": [1.201459, 1.28562], "nice": false, "zero": false}}
}
},
{
"data": {"name": "fib"},
"mark": {"type": "rule", "strokeWidth": 2.5},
"encoding": {
"x": {"datum": -0.562, "type": "quantitative", "scale": {"domain": [-0.562, 416.5], "nice": false, "zero": false}, "axis": null},
"x2": {"datum": 397.9},
"y": {"field": "p", "type": "quantitative", "scale": {"domain": [1.201459, 1.28562], "nice": false, "zero": false}},
"color": {"field": "set", "type": "nominal", "legend": null, "scale": {"domain": ["A", "B"], "range": ["#d81e48", "#137a13"]}}
}
},
{
"data": {"name": "fib"},
"mark": {"type": "rule", "strokeWidth": 1},
"encoding": {
"x": {"datum": 397.9, "type": "quantitative", "scale": {"domain": [-0.562, 416.5], "nice": false, "zero": false}, "axis": null},
"x2": {"datum": 416.5},
"y": {"field": "p", "type": "quantitative", "scale": {"domain": [1.201459, 1.28562], "nice": false, "zero": false}},
"color": {"field": "set", "type": "nominal", "legend": null, "scale": {"domain": ["A", "B"], "range": ["#d81e48", "#137a13"]}}
}
},
{
"data": {"name": "fib"},
"mark": {"type": "text", "align": "right", "baseline": "alphabetic", "dy": -3, "fontSize": 17.5},
"encoding": {
"x": {"datum": 416.3, "type": "quantitative", "scale": {"domain": [-0.562, 416.5], "nice": false, "zero": false}, "axis": null},
"y": {"field": "p", "type": "quantitative", "scale": {"domain": [1.201459, 1.28562], "nice": false, "zero": false}},
"text": {"field": "lab"},
"color": {"field": "set", "type": "nominal", "legend": null, "scale": {"domain": ["A", "B"], "range": ["#d81e48", "#137a13"]}}
}
},
{
"data": {"name": "trend"},
"mark": {"type": "line", "strokeWidth": 3, "color": "#000080", "clip": true},
"encoding": {
"x": {"field": "i", "type": "quantitative", "scale": {"domain": [-0.562, 416.5], "nice": false, "zero": false}, "axis": null},
"y": {"field": "p", "type": "quantitative", "scale": {"domain": [1.201459, 1.28562], "nice": false, "zero": false}},
"detail": {"field": "line", "type": "nominal"}
}
},
{
"data": {"name": "levels"},
"transform": [{"filter": "datum.kind != 'bid'"}],
"mark": {"type": "text", "align": "center", "baseline": "top", "dy": 3, "fontSize": 20, "clip": true},
"encoding": {
"x": {"datum": 305.6, "type": "quantitative", "scale": {"domain": [-0.562, 416.5], "nice": false, "zero": false}, "axis": null},
"y": {"field": "p", "type": "quantitative", "scale": {"domain": [1.201459, 1.28562], "nice": false, "zero": false}},
"text": {"field": "name"},
"color": {"field": "name", "type": "nominal", "legend": null,
"scale": {"domain": ["H4[+2/8]", "H4[+1/8]", "D1[3/8] H4RES", "H4[7/8]", "H4[6/8]", "H4[5/8]", "W1[5/8] D1[2/8] H4PIVOT", "H4[3/8]", "H4[2/8]", "H4[1/8]"],
"range": ["#ff00ff", "#778899", "#1e90ff", "#ffa500", "#ff4500", "#6b8e23", "#1e90ff", "#6b8e23", "#ff4500", "#ffa500"]}}
}
},
{
"data": {"name": "candles"},
"mark": {"type": "rule", "strokeWidth": 1, "color": "#000000"},
"encoding": {
"x": {"field": "i", "type": "quantitative", "scale": {"domain": [-0.562, 416.5], "nice": false, "zero": false}, "axis": null},
"y": {"field": "l", "type": "quantitative", "scale": {"domain": [1.201459, 1.28562], "nice": false, "zero": false}},
"y2": {"field": "h"}
}
},
{
"data": {"name": "candles"},
"mark": {"type": "bar", "width": 3, "stroke": "#000000", "strokeWidth": 1, "opacity": 1},
"encoding": {
"x": {"field": "i", "type": "quantitative", "scale": {"domain": [-0.562, 416.5], "nice": false, "zero": false}, "axis": null},
"y": {"field": "o", "type": "quantitative", "scale": {"domain": [1.201459, 1.28562], "nice": false, "zero": false}},
"y2": {"field": "c"},
"fill": {"condition": {"test": "datum.c >= datum.o", "value": "#ffffff"}, "value": "#000000"}
}
},
{
"data": {"values": [{"t": "GBPUSDmicro,H4  1.20786 1.20922 1.20686 1.20899"}]},
"mark": {"type": "text", "align": "left", "baseline": "middle", "fontSize": 17.5, "color": "#000000"},
"encoding": {
"x": {"datum": 4.0, "type": "quantitative", "scale": {"domain": [-0.562, 416.5], "nice": false, "zero": false}, "axis": null},
"y": {"datum": 1.28483, "type": "quantitative", "scale": {"domain": [1.201459, 1.28562], "nice": false, "zero": false}},
"text": {"field": "t"}
}
},
{
"data": {"values": [{"t": "menu"}]},
"mark": {"type": "point", "shape": "triangle-down", "filled": true, "size": 55, "color": "#000000", "opacity": 1},
"encoding": {
"x": {"datum": 1.63, "type": "quantitative", "scale": {"domain": [-0.562, 416.5], "nice": false, "zero": false}, "axis": null},
"y": {"datum": 1.2849, "type": "quantitative", "scale": {"domain": [1.201459, 1.28562], "nice": false, "zero": false}}
}
},
{
"data": {"name": "levels"},
"mark": {"type": "tick", "orient": "horizontal", "thickness": 20, "opacity": 1},
"encoding": {
"x": {"datum": 423.0, "type": "quantitative", "scale": {"domain": [-0.562, 416.5], "nice": false, "zero": false}, "axis": null},
"y": {"field": "p", "type": "quantitative", "scale": {"domain": [1.201459, 1.28562], "nice": false, "zero": false}},
"size": {"value": 75},
"color": {"field": "name", "type": "nominal", "legend": null,
"scale": {"domain": ["H4[+2/8]", "H4[+1/8]", "D1[3/8] H4RES", "H4[7/8]", "H4[6/8]", "H4[5/8]", "W1[5/8] D1[2/8] H4PIVOT", "H4[3/8]", "Bid", "H4[2/8]", "H4[1/8]"],
"range": ["#ff00ff", "#778899", "#1e90ff", "#ffa500", "#ff4500", "#6b8e23", "#1e90ff", "#6b8e23", "#000000", "#ff4500", "#ffa500"]}}
}
},
{
"data": {"name": "levels"},
"mark": {"type": "text", "align": "left", "baseline": "middle", "fontSize": 17, "color": "#ffffff"},
"encoding": {
"x": {"datum": 417.9, "type": "quantitative", "scale": {"domain": [-0.562, 416.5], "nice": false, "zero": false}, "axis": null},
"y": {"field": "p", "type": "quantitative", "scale": {"domain": [1.201459, 1.28562], "nice": false, "zero": false}},
"text": {"field": "p", "type": "quantitative", "format": ".5f"}
}
}
]
},
{
"width": 2472,
"height": 52,
"layer": [
{
"data": {"values": [{"lv": 70}, {"lv": 30}]},
"mark": {"type": "rule", "strokeDash": [2, 3], "color": "#b8b8b8", "strokeWidth": 1},
"encoding": {
"y": {"field": "lv", "type": "quantitative", "scale": {"domain": [0, 100], "nice": false},
"axis": {"orient": "right", "values": [0, 30, 70, 100], "tickSize": 0, "labelPadding": 3, "labelFontSize": 16,
"labelBaseline": {"expr": "datum.value == 100 ? 'top' : datum.value == 0 ? 'bottom' : 'middle'"}}}
}
},
{
"data": {"name": "rsi"},
"mark": {"type": "line", "color": "#6fa8c8", "strokeWidth": 1},
"encoding": {
"x": {"field": "i", "type": "quantitative", "scale": {"domain": [-0.562, 416.5], "nice": false, "zero": false},
"axis": {"orient": "bottom", "values": [0, 24, 48, 72, 96, 120, 144, 168, 192, 216, 240, 264, 288, 312],
"labelExpr": "['10 Aug 2023','16 Aug 04:00','22 Aug 04:00','28 Aug 04:00','1 Sep 04:00','7 Sep 04:00','13 Sep 04:00','19 Sep 04:00','25 Sep 04:00','29 Sep 04:00','5 Oct 04:00','11 Oct 04:00','17 Oct 04:00','23 Oct 04:00'][round(datum.value/24)]",
"labelAlign": "left", "tickSize": 4, "labelPadding": 1, "labelFontSize": 17}},
"y": {"field": "r", "type": "quantitative", "scale": {"domain": [0, 100], "nice": false}}
}
},
{
"data": {"values": [{"t": "RSI(14) 35.8598"}]},
"mark": {"type": "text", "align": "left", "baseline": "middle", "fontSize": 17, "color": "#000000"},
"encoding": {
"x": {"datum": 0.45, "type": "quantitative", "scale": {"domain": [-0.562, 416.5], "nice": false, "zero": false}},
"y": {"datum": 77, "type": "quantitative", "scale": {"domain": [0, 100], "nice": false}},
"text": {"field": "t"}
}
}
]
}
]
}
